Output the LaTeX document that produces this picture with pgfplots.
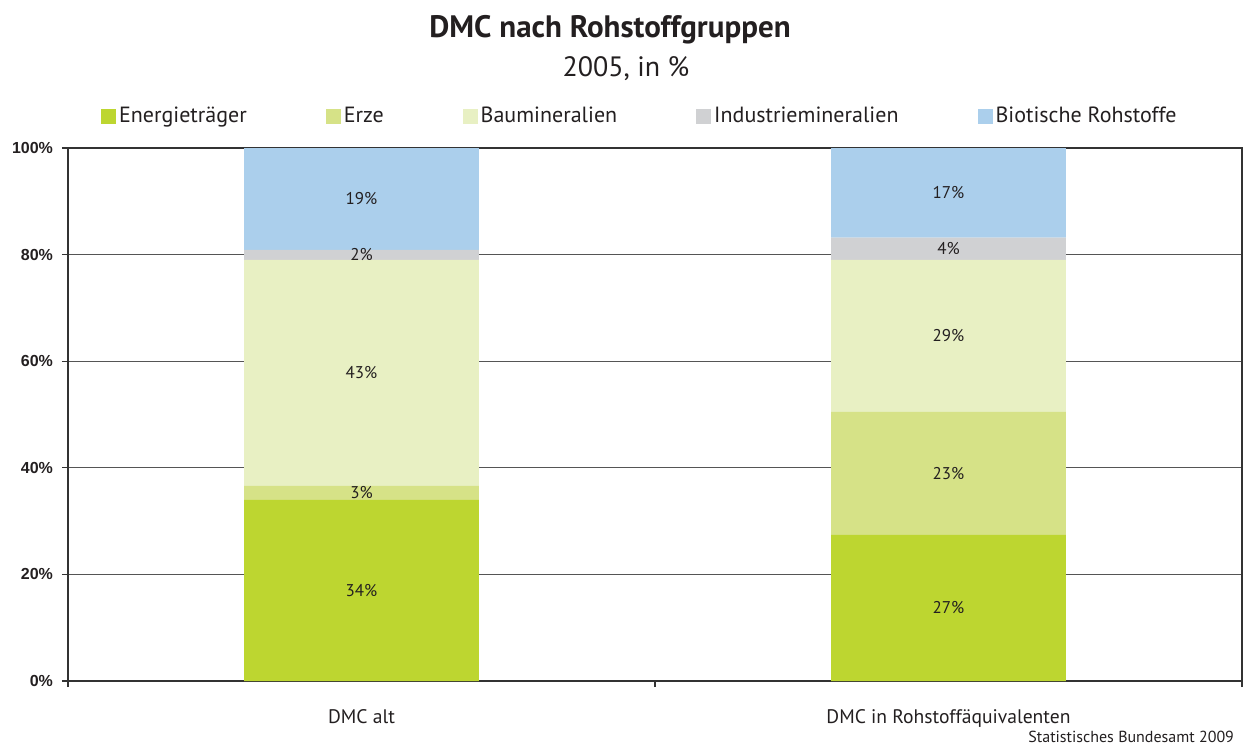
\documentclass[border=0pt]{standalone}
\usepackage{pgfplots}
\usepackage{pgfplotstable}
\pgfplotsset{compat=1.18}
\usepackage{fontspec}
\setmainfont{PT Sans}
\newfontfamily\arialfont{Liberation Sans}
\definecolor{cEn}{HTML}{BDD630}
\definecolor{cEr}{HTML}{D6E287}
\definecolor{cBa}{HTML}{E8F0C3}
\definecolor{cIn}{HTML}{D0D1D3}
\definecolor{cBi}{HTML}{ABCFEC}
\definecolor{txt}{HTML}{231F20}
\definecolor{axc}{HTML}{333333}
\definecolor{grd}{HTML}{555555}

\pgfplotstableread{
x en er ba in bi
0 34.0 2.6 42.4 1.9 19.1
1 27.4 23.1 28.5 4.2 16.8
}\datatable

\pgfplotstableread{
x y lab
0 17.0 34
0 35.3 3
0 57.8 43
0 79.95 2
0 90.45 19
1 13.7 27
1 38.95 23
1 64.75 29
1 81.1 4
1 91.6 17
}\labeltable

\begin{document}
\begin{tikzpicture}[every node/.style={text=txt}]
\useasboundingbox (-34pt,-32pt) rectangle (589.5pt,340.5pt);
\begin{axis}[
  scale only axis, width=587pt, height=266.5pt,
  ybar stacked, bar width=0.4,
  xmin=-0.5, xmax=1.5, ymin=0, ymax=100,
  enlargelimits=false,
  axis line style={axc, line width=0.8pt},
  ymajorgrids, grid style={grd, line width=0.5pt},
  ytick={0,20,40,60,80,100},
  yticklabels={0\%,20\%,40\%,60\%,80\%,100\%},
  yticklabel style={font=\arialfont\bfseries\fontsize{8}{9}\selectfont, text=txt, xshift=-1pt},
  xtick={-0.5,0.5,1.5}, xticklabels={},
  extra x ticks={0,1},
  extra x tick labels={DMC alt, DMC in Rohstoffäquivalenten},
  extra x tick style={major tick length=0pt, xticklabel style={yshift=-10.5pt, font=\fontsize{9.8}{12}\selectfont, text=txt}},
  xtick pos=bottom, ytick pos=left,
  tick align=outside, major tick length=3pt,
  tick style={axc, line width=0.6pt},
  legend columns=5,
  legend style={draw=none, fill=none, at={(0.4875,1.06)}, anchor=center,
    font=\fontsize{11}{13}\selectfont, text=txt,
    /tikz/every even column/.append style={column sep=38pt},
    nodes={inner sep=1.5pt}},
  legend image code/.code={\fill[#1] (0pt,-3.75pt) rectangle (7.5pt,3.75pt);},
]
\addplot[fill=cEn, draw=none] table[x=x, y=en] {\datatable};
\addlegendentry{Energieträger}
\addplot[fill=cEr, draw=none] table[x=x, y=er] {\datatable};
\addlegendentry{Erze}
\addplot[fill=cBa, draw=none] table[x=x, y=ba] {\datatable};
\addlegendentry{Baumineralien}
\addplot[fill=cIn, draw=none] table[x=x, y=in] {\datatable};
\addlegendentry{Industriemineralien}
\addplot[fill=cBi, draw=none] table[x=x, y=bi] {\datatable};
\addlegendentry{Biotische Rohstoffe}
\end{axis}
\begin{axis}[
  scale only axis, width=587pt, height=266.5pt,
  xmin=-0.5, xmax=1.5, ymin=0, ymax=100,
  enlargelimits=false, hide axis, clip=false,
]
\addplot[draw=none, mark=none, nodes near coords={\pgfplotspointmeta\%},
  point meta=explicit symbolic,
  every node near coord/.style={anchor=center, font=\fontsize{8.5}{10}\selectfont, text=txt}]
  table[x=x, y=y, meta=lab] {\labeltable};
\end{axis}
\node[font=\bfseries\fontsize{15.5}{18}\selectfont] at (271pt,325.5pt) {DMC nach Rohstoffgruppen};
\node[font=\fontsize{14}{16}\selectfont] at (279pt,306pt) {2005, in \%};
\node[anchor=east, font=\fontsize{8}{10}\selectfont] at (586.5pt,-28pt) {Statistisches Bundesamt 2009};
\end{tikzpicture}
\end{document}
